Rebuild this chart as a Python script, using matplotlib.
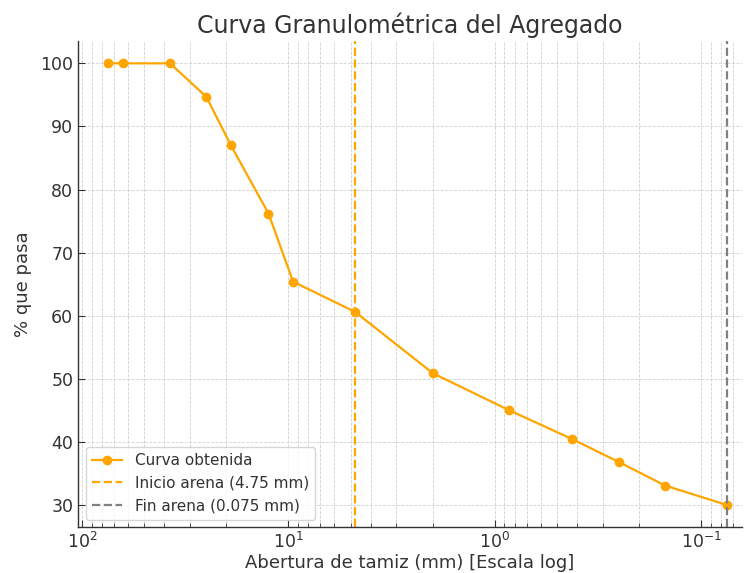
import matplotlib
matplotlib.use("Agg")
import matplotlib.pyplot as plt

sizes_mm = [75, 63, 37.5, 25, 19, 12.5, 9.5, 4.75, 2.0, 0.85, 0.425, 0.25, 0.15, 0.075]
pct_pass = [100, 100, 100, 94.7, 87.0, 76.2, 65.4, 60.6, 50.9, 45.0, 40.5, 36.8, 33.1, 30.0]
sand_start = 4.75
sand_end = 0.075

plt.rcParams['font.family'] = ['DejaVu Sans']
text_color = '#333333'

fig = plt.figure(figsize=(7.44, 5.73), dpi=100)
ax = fig.add_axes([0.105, 0.08, 0.892, 0.848])

ax.plot(sizes_mm, pct_pass, marker='o', color='orange', linewidth=1.6, markersize=6,
        label='Curva obtenida')
ax.axvline(sand_start, color='orange', linestyle='--', linewidth=1.6, label='Inicio arena (4.75 mm)')
ax.axvline(sand_end, color='gray', linestyle='--', linewidth=1.6, label='Fin arena (0.075 mm)')

ax.set_xscale('log')
ax.set_xlim(104.5, 0.0637)
ax.set_ylim(26.5, 103.5)

ax.grid(True, which='both', linestyle='--', linewidth=0.6, color='#cccccc', alpha=0.9)
ax.set_axisbelow(True)
for s in ['top', 'right']:
    ax.spines[s].set_visible(False)
for s in ['left', 'bottom']:
    ax.spines[s].set_color(text_color)
    ax.spines[s].set_linewidth(1.0)
ax.tick_params(which='both', direction='in', colors=text_color, labelsize=12.5)
ax.tick_params(which='major', length=5)
ax.tick_params(which='minor', length=3)

ax.set_title('Curva Granulométrica del Agregado', fontsize=17, color=text_color, pad=6)
ax.set_xlabel('Abertura de tamiz (mm) [Escala log]', fontsize=13, color=text_color, labelpad=1)
ax.set_ylabel('% que pasa', fontsize=13, color=text_color, labelpad=6)

leg = ax.legend(loc='lower left', fontsize=11, framealpha=0.8, edgecolor='#cccccc')
for t in leg.get_texts():
    t.set_color(text_color)

fig.savefig('out.png', dpi=100)
